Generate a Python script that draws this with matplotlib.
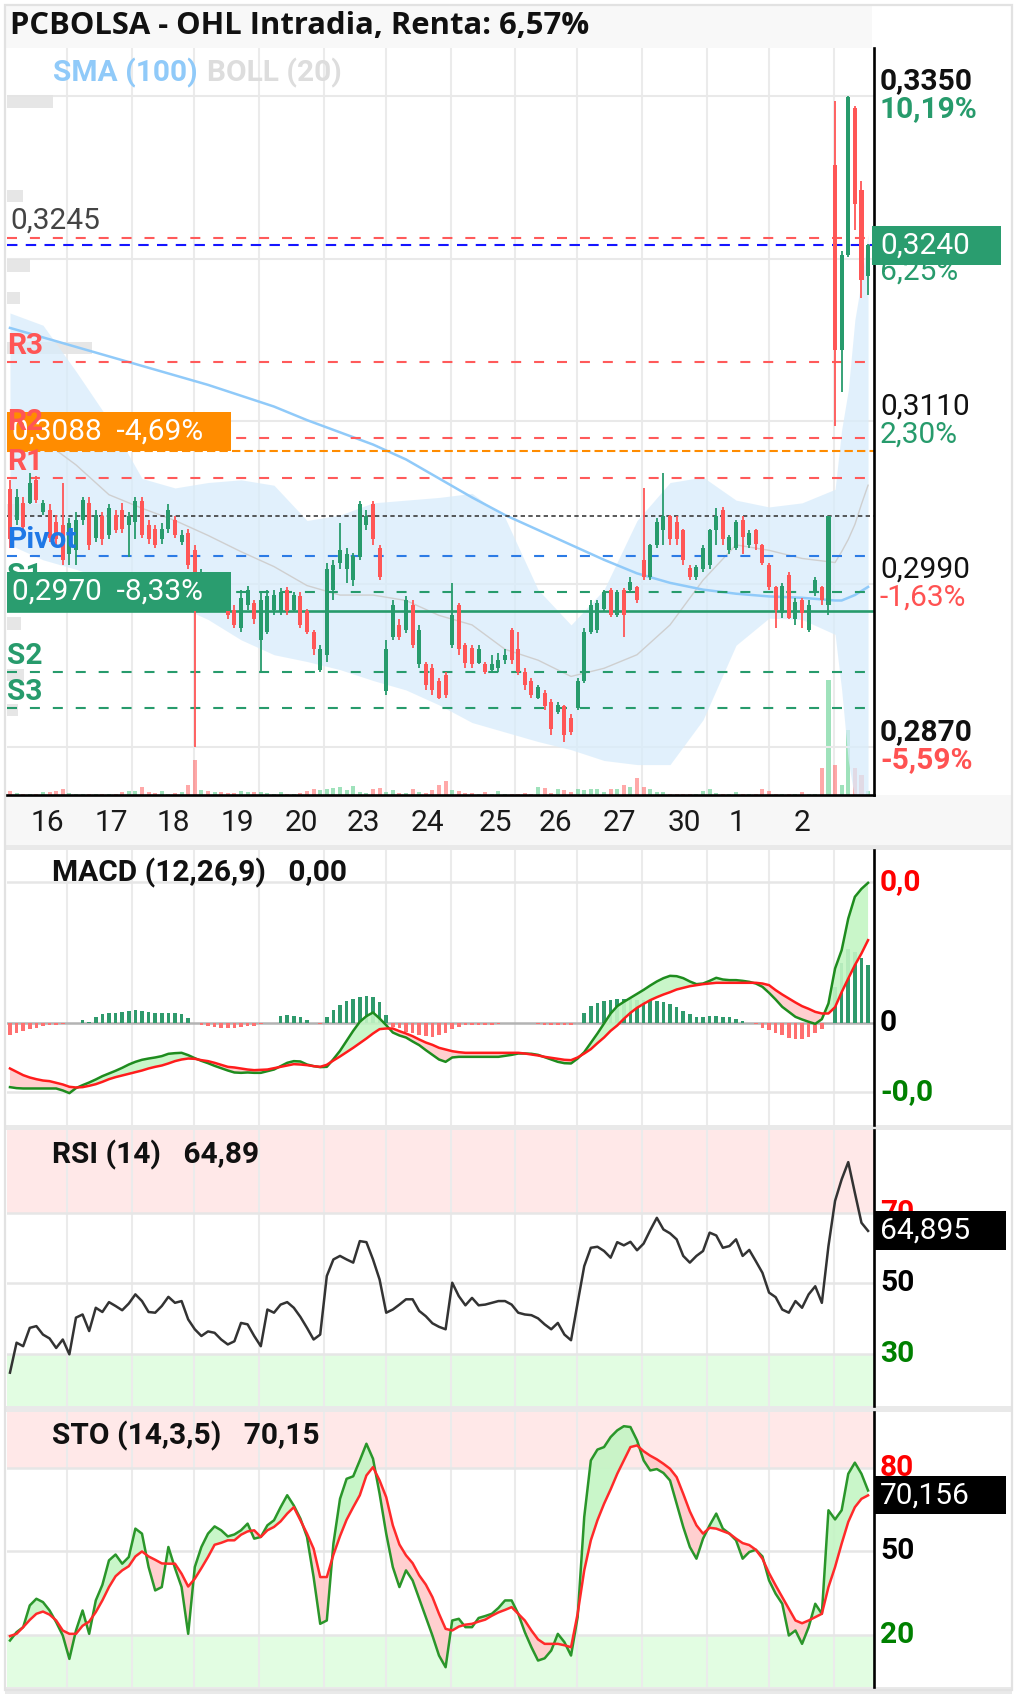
import numpy as np
import matplotlib
matplotlib.use('Agg')
import matplotlib.pyplot as plt
from matplotlib.patches import Rectangle

plt.rcParams['font.family'] = ['Roboto', 'DejaVu Sans']

# ---------------------------------------------------------------- data
title = 'PCBOLSA - OHL Intradia, Renta: 6,57%'
day_labels = ['16', '17', '18', '19', '20', '23', '24', '25', '26', '27', '30', '1', '2']

opens = [0.3060, 0.3037, 0.3050, 0.3050, 0.3067, 0.3043, 0.3045, 0.3036, 0.3034, 0.3012,
         0.3015, 0.3037, 0.3050, 0.3024, 0.3040, 0.3026, 0.3041, 0.3045, 0.3034, 0.3036,
         0.3051, 0.3034, 0.3031, 0.3023, 0.3031, 0.3037, 0.3021, 0.3028, 0.3015, 0.2993,
         0.2997, 0.2980, 0.2986, 0.2978, 0.2971, 0.2958, 0.2975, 0.2976, 0.2949, 0.2955,
         0.2971, 0.2970, 0.2986, 0.2971, 0.2981, 0.2970, 0.2955, 0.2927, 0.2938, 0.2986,
         0.3006, 0.3001, 0.2993, 0.3010, 0.3034, 0.3049, 0.3017, 0.2911, 0.2951, 0.2960,
         0.2956, 0.2975, 0.2931, 0.2931, 0.2928, 0.2919, 0.2923, 0.2945, 0.2975, 0.2945,
         0.2943, 0.2932, 0.2931, 0.2927, 0.2928, 0.2934, 0.2956, 0.2942, 0.2925, 0.2919,
         0.2906, 0.2910, 0.2903, 0.2896, 0.2900, 0.2891, 0.2899, 0.2919, 0.2955, 0.2956,
         0.2972, 0.2986, 0.2967, 0.2986, 0.2986, 0.2988, 0.3008, 0.2995, 0.3019, 0.3030,
         0.3040, 0.3036, 0.3030, 0.3002, 0.2995, 0.3001, 0.3004, 0.3030, 0.3045, 0.3015,
         0.3017, 0.3037, 0.3019, 0.3030, 0.3019, 0.3004, 0.2988, 0.2969, 0.2997, 0.2964,
         0.2978, 0.2956, 0.2984, 0.2988, 0.2975, 0.3299, 0.3163, 0.3233, 0.3341, 0.3281,
         0.3217]
closes = [0.3023, 0.3054, 0.3032, 0.3065, 0.3052, 0.3050, 0.3024, 0.3023, 0.3008, 0.3035,
          0.3037, 0.3052, 0.3019, 0.3041, 0.3023, 0.3046, 0.3030, 0.3031, 0.3040, 0.3051,
          0.3026, 0.3023, 0.3019, 0.3031, 0.3045, 0.3026, 0.3026, 0.3004, 0.2997, 0.2998,
          0.2986, 0.2987, 0.2975, 0.2967, 0.2960, 0.2980, 0.2986, 0.2964, 0.2978, 0.2981,
          0.2982, 0.2984, 0.2970, 0.2982, 0.2960, 0.2955, 0.2942, 0.2942, 0.3001, 0.3004,
          0.3015, 0.3012, 0.3011, 0.3049, 0.3040, 0.3023, 0.2995, 0.2942, 0.2975, 0.2951,
          0.2978, 0.2945, 0.2956, 0.2916, 0.2912, 0.2906, 0.2908, 0.2967, 0.2942, 0.2932,
          0.2931, 0.2942, 0.2925, 0.2931, 0.2934, 0.2938, 0.2934, 0.2925, 0.2916, 0.2908,
          0.2914, 0.2900, 0.2883, 0.2901, 0.2879, 0.2881, 0.2919, 0.2955, 0.2975, 0.2976,
          0.2984, 0.2967, 0.2984, 0.2967, 0.2992, 0.2978, 0.2995, 0.3019, 0.3036, 0.3040,
          0.3023, 0.3023, 0.3008, 0.2995, 0.3003, 0.3017, 0.3030, 0.3040, 0.3023, 0.3025,
          0.3036, 0.3025, 0.3028, 0.3020, 0.3006, 0.2988, 0.2971, 0.2989, 0.2965, 0.2977,
          0.2969, 0.2975, 0.2993, 0.2978, 0.3040, 0.3163, 0.3233, 0.3349, 0.3270, 0.3214,
          0.3240]
highs = [0.3067, 0.3060, 0.3054, 0.3072, 0.3070, 0.3052, 0.3049, 0.3041, 0.3065, 0.3039,
         0.3043, 0.3054, 0.3054, 0.3045, 0.3043, 0.3049, 0.3045, 0.3050, 0.3043, 0.3054,
         0.3054, 0.3037, 0.3034, 0.3035, 0.3049, 0.3040, 0.3030, 0.3031, 0.3019, 0.3001,
         0.2999, 0.2989, 0.2987, 0.2981, 0.2975, 0.2986, 0.2989, 0.2978, 0.2984, 0.2986,
         0.2986, 0.2987, 0.2988, 0.2984, 0.2984, 0.2972, 0.2956, 0.2945, 0.3006, 0.3008,
         0.3035, 0.3017, 0.3013, 0.3051, 0.3045, 0.3051, 0.3019, 0.2949, 0.2978, 0.2964,
         0.2981, 0.2978, 0.2960, 0.2933, 0.2931, 0.2921, 0.2925, 0.2991, 0.2976, 0.2947,
         0.2945, 0.2945, 0.2933, 0.2938, 0.2939, 0.2942, 0.2958, 0.2955, 0.2928, 0.2921,
         0.2916, 0.2912, 0.2905, 0.2903, 0.2901, 0.2894, 0.2921, 0.2958, 0.2978, 0.2978,
         0.2986, 0.2987, 0.2986, 0.2987, 0.2995, 0.2989, 0.3061, 0.3020, 0.3039, 0.3072,
         0.3041, 0.3040, 0.3031, 0.3004, 0.3004, 0.3019, 0.3031, 0.3046, 0.3047, 0.3026,
         0.3037, 0.3040, 0.3030, 0.3031, 0.3020, 0.3006, 0.2989, 0.2991, 0.2999, 0.2980,
         0.2980, 0.2978, 0.2995, 0.2989, 0.3040, 0.3346, 0.3236, 0.3350, 0.3343, 0.3287,
         0.3241]
lows = [0.3017, 0.3034, 0.3030, 0.3049, 0.3050, 0.3041, 0.3021, 0.3019, 0.3004, 0.3004,
        0.3004, 0.3034, 0.3015, 0.3021, 0.3019, 0.3023, 0.3028, 0.3028, 0.3010, 0.3023,
        0.3024, 0.3020, 0.3017, 0.3020, 0.3028, 0.3024, 0.3019, 0.3001, 0.2870, 0.2991,
        0.2982, 0.2977, 0.2971, 0.2964, 0.2958, 0.2955, 0.2971, 0.2961, 0.2925, 0.2953,
        0.2967, 0.2967, 0.2967, 0.2970, 0.2958, 0.2953, 0.2938, 0.2925, 0.2933, 0.2978,
        0.3001, 0.2991, 0.2989, 0.3008, 0.3030, 0.3019, 0.2993, 0.2908, 0.2949, 0.2949,
        0.2954, 0.2943, 0.2928, 0.2912, 0.2908, 0.2905, 0.2906, 0.2943, 0.2938, 0.2928,
        0.2928, 0.2931, 0.2924, 0.2925, 0.2925, 0.2931, 0.2931, 0.2923, 0.2912, 0.2906,
        0.2905, 0.2897, 0.2879, 0.2894, 0.2874, 0.2879, 0.2897, 0.2917, 0.2953, 0.2954,
        0.2970, 0.2966, 0.2966, 0.2951, 0.2984, 0.2976, 0.2993, 0.2993, 0.3017, 0.3019,
        0.3019, 0.3019, 0.3004, 0.2993, 0.2993, 0.2999, 0.3001, 0.3019, 0.3019, 0.3012,
        0.3015, 0.3012, 0.3017, 0.3015, 0.3004, 0.2986, 0.2958, 0.2965, 0.2964, 0.2960,
        0.2958, 0.2955, 0.2981, 0.2975, 0.2967, 0.3107, 0.3132, 0.3231, 0.3251, 0.3201,
        0.3203]
volume_k = [80, 40, 20, 20, 20, 60, 60, 80, 120, 40,
            20, 20, 20, 20, 20, 20, 20, 60, 80, 80,
            160, 60, 40, 80, 20, 40, 60, 200, 700, 100,
            80, 60, 60, 40, 40, 80, 60, 60, 60, 40,
            20, 60, 20, 20, 40, 80, 120, 100, 120, 140,
            160, 100, 180, 60, 40, 120, 140, 60, 100, 40,
            40, 120, 60, 40, 100, 200, 280, 100, 80, 40,
            40, 20, 60, 20, 80, 20, 20, 20, 40, 20,
            160, 140, 40, 120, 100, 60, 120, 100, 120, 120,
            60, 120, 120, 200, 160, 340, 160, 120, 60, 60,
            20, 20, 20, 20, 20, 80, 120, 40, 20, 20,
            60, 20, 20, 20, 120, 80, 20, 20, 20, 20,
            60, 20, 20, 540, 2300, 600, 200, 1300, 540, 400,
            80]

# Bollinger (20) and SMA (100), sampled along the session
band_idx = [0, 5, 10, 15, 20, 25, 30, 35, 40, 45, 50, 55, 60, 65, 70, 75, 80, 85, 90,
            95, 100, 105, 110, 115, 120, 125, 126, 127, 128, 129, 130]
boll_upper = [0.3190, 0.3181, 0.3147, 0.3111, 0.3068, 0.3061, 0.3065, 0.3067, 0.3063, 0.3037,
              0.3041, 0.3050, 0.3052, 0.3054, 0.3057, 0.3039, 0.2986, 0.2960, 0.2986, 0.3037,
              0.3065, 0.3069, 0.3052, 0.3047, 0.3050, 0.3060, 0.3104, 0.3133, 0.3185, 0.3214,
              0.3248]
boll_lower = [0.3019, 0.3008, 0.3001, 0.2993, 0.2986, 0.2975, 0.2964, 0.2949, 0.2938, 0.2933,
              0.2927, 0.2919, 0.2912, 0.2901, 0.2888, 0.2881, 0.2874, 0.2868, 0.2860, 0.2857,
              0.2857, 0.2890, 0.2945, 0.2965, 0.2964, 0.2953, 0.2912, 0.2860, 0.2831, 0.2809,
              0.2787]
boll_mid = [0.3104, 0.3096, 0.3078, 0.3056, 0.3046, 0.3037, 0.3026, 0.3014, 0.3003, 0.2989,
            0.2982, 0.2982, 0.2978, 0.2967, 0.2960, 0.2942, 0.2934, 0.2922, 0.2928, 0.2938,
            0.2960, 0.2993, 0.3019, 0.3015, 0.3009, 0.3006, 0.3014, 0.3023, 0.3034, 0.3049,
            0.3063]
sma100 = [0.3179, 0.3172, 0.3165, 0.3158, 0.3151, 0.3144, 0.3137, 0.3129, 0.3121, 0.3111,
          0.3102, 0.3093, 0.3082, 0.3068, 0.3054, 0.3041, 0.3030, 0.3019, 0.3008, 0.2998,
          0.2991, 0.2986, 0.2983, 0.2981, 0.2980, 0.2978, 0.2978, 0.2980, 0.2982, 0.2985,
          0.2988]

# volume at price (left edge)
vp_price = [0.3346, 0.3276, 0.3225, 0.3201, 0.3164, 0.3045, 0.2961, 0.2923, 0.2897]
vp_volume_k = [460, 160, 230, 130, 850, 380, 140, 170, 110]

# price levels
last_price = 0.3240
prev_high = 0.3245
base_price = 0.3040
orange_level = 0.3088
green_level = 0.2970
level_names = ['R3', 'R2', 'R1', 'Pivot', 'S1', 'S2', 'S3']
level_values = [0.3154, 0.3098, 0.3068, 0.3011, 0.2984, 0.2925, 0.2899]
price_ticks = [0.3350, 0.3230, 0.3110, 0.2990, 0.2870]
price_pcts = ['10,19%', '6,25%', '2,30%', '-1,63%', '-5,59%']

# MACD (12,26,9), in 1e-4
macd = [-9.10, -9.24, -9.29, -9.29, -9.29, -9.29, -9.29, -9.29, -9.57, -9.95,
        -9.24, -8.82, -8.44, -8.01, -7.54, -7.16, -6.78, -6.36, -5.89, -5.51,
        -5.22, -5.04, -4.89, -4.70, -4.37, -4.28, -4.23, -4.56, -4.99, -5.37,
        -5.70, -6.08, -6.41, -6.74, -7.02, -7.07, -7.02, -7.07, -7.07, -6.83,
        -6.60, -6.12, -5.65, -5.41, -5.46, -5.89, -6.12, -6.26, -6.22, -5.13,
        -3.95, -2.53, -1.11, 0.17, 0.97, 1.49, 0.64, -0.31, -1.35, -1.77,
        -2.06, -2.62, -3.14, -3.85, -4.52, -5.18, -5.51, -4.89, -4.80, -4.80,
        -4.80, -4.80, -4.80, -4.80, -4.80, -4.66, -4.52, -4.33, -4.33, -4.37,
        -4.52, -4.85, -5.18, -5.51, -5.70, -5.74, -5.04, -4.14, -2.81, -1.49,
        -0.07, 1.35, 2.39, 3.00, 3.57, 4.14, 4.70, 5.32, 5.89, 6.36,
        6.69, 6.64, 6.36, 5.89, 5.51, 5.60, 5.98, 6.41, 6.17, 6.08,
        6.08, 5.98, 5.84, 5.60, 5.13, 4.28, 3.33, 2.29, 1.58, 0.87,
        0.50, 0.17, -0.12, 0.54, 2.77, 7.73, 10.33, 14.82, 17.90, 19.03,
        19.88]
signal = [-6.45, -6.93, -7.40, -7.73, -7.97, -8.16, -8.25, -8.49, -8.72, -9.05,
          -9.15, -9.10, -8.91, -8.68, -8.35, -7.97, -7.68, -7.45, -7.21, -6.97,
          -6.74, -6.45, -6.22, -6.03, -5.74, -5.41, -5.18, -5.04, -5.08, -5.27,
          -5.41, -5.65, -5.93, -6.22, -6.31, -6.45, -6.60, -6.69, -6.64, -6.60,
          -6.41, -6.22, -6.03, -5.84, -5.89, -5.98, -6.12, -6.22, -5.93, -5.32,
          -4.75, -4.14, -3.52, -2.86, -2.20, -1.49, -0.87, -0.78, -0.78, -1.16,
          -1.49, -1.87, -2.34, -2.77, -3.10, -3.52, -3.76, -4.00, -4.14, -4.23,
          -4.23, -4.23, -4.23, -4.23, -4.23, -4.23, -4.23, -4.23, -4.33, -4.47,
          -4.61, -4.80, -4.94, -5.08, -5.22, -5.27, -4.89, -4.33, -3.71, -2.86,
          -2.06, -1.11, -0.35, 0.59, 1.44, 2.15, 2.72, 3.24, 3.66, 4.04,
          4.37, 4.75, 4.99, 5.22, 5.37, 5.51, 5.60, 5.70, 5.70, 5.70,
          5.70, 5.70, 5.70, 5.70, 5.60, 5.37, 4.66, 4.04, 3.48, 2.91,
          2.39, 2.01, 1.58, 1.35, 1.35, 2.25, 4.37, 6.31, 8.20, 9.86,
          11.75]
macd_hist = [-1.73, -1.39, -1.11, -0.83, -0.64, -0.45, -0.35, -0.26, -0.17, -0.07,
             -0.02, 0.40, 0.17, 0.87, 1.25, 1.35, 1.44, 1.58, 1.73, 1.82,
             1.68, 1.49, 1.35, 1.35, 1.39, 1.35, 1.25, 0.64, 0.02, -0.31,
             -0.45, -0.54, -0.64, -0.78, -0.64, -0.54, -0.45, -0.40, -0.21, -0.02,
             -0.02, 0.97, 1.11, 1.02, 0.78, 0.40, -0.07, -0.17, 0.87, 1.91,
             2.53, 3.05, 3.38, 3.71, 3.85, 3.71, 3.00, 1.11, -0.54, -0.78,
             -1.25, -1.49, -1.73, -1.87, -1.96, -1.73, -1.39, -0.92, -0.54, -0.35,
             -0.31, -0.31, -0.31, -0.31, -0.21, -0.02, -0.02, -0.02, -0.02, -0.02,
             -0.21, -0.31, -0.35, -0.35, -0.35, -0.31, -0.02, 1.35, 2.39, 2.86,
             3.14, 3.33, 3.38, 3.38, 3.38, 3.33, 3.33, 3.24, 3.14, 2.96,
             2.67, 2.29, 1.73, 1.25, 0.87, 0.87, 0.97, 0.97, 0.87, 0.78,
             0.54, 0.31, -0.02, -0.21, -0.64, -1.02, -1.39, -1.73, -2.06, -2.29,
             -2.20, -1.96, -1.49, -0.92, -0.02, 5.13, 8.44, 10.43, 10.09, 9.15,
             8.20]

rsi = [24.7, 33.2, 32.2, 37.4, 37.9, 35.5, 34.4, 31.7, 34.1, 29.9,
       40.3, 41.2, 36.5, 43.1, 41.9, 44.7, 43.6, 42.4, 44.3, 46.9,
       45.0, 41.9, 41.7, 43.6, 46.2, 44.5, 45.0, 39.8, 37.0, 35.1,
       36.4, 36.0, 34.1, 32.7, 33.6, 38.8, 38.4, 35.1, 32.2, 42.6,
       41.7, 44.0, 44.7, 43.1, 40.5, 37.4, 34.1, 35.5, 52.1, 56.8,
       57.8, 56.8, 55.9, 62.0, 61.7, 56.8, 51.1, 41.7, 42.6, 44.0,
       45.5, 45.5, 42.2, 40.7, 38.7, 37.7, 37.0, 50.2, 46.4, 43.8,
       45.9, 43.8, 44.0, 44.5, 45.0, 45.0, 44.0, 41.7, 41.2, 41.0,
       40.1, 38.4, 37.0, 38.8, 35.5, 33.9, 44.5, 54.9, 60.1, 60.4,
       59.2, 57.3, 61.7, 60.8, 61.8, 59.4, 61.3, 65.1, 68.6, 65.3,
       64.2, 62.5, 57.8, 55.9, 57.8, 59.2, 64.4, 63.6, 60.1, 60.6,
       62.5, 57.8, 59.5, 56.3, 53.0, 47.4, 46.1, 42.6, 41.7, 45.0,
       43.1, 46.9, 49.2, 44.5, 60.6, 73.4, 79.5, 84.4, 75.7, 67.2,
       64.895]

sto_k = [18.0, 21.0, 22.8, 30.6, 33.0, 31.8, 28.8, 24.6, 19.8, 11.4,
         21.6, 28.8, 20.4, 32.4, 38.0, 46.8, 48.9, 45.6, 48.0, 58.2,
         56.4, 44.4, 36.0, 37.2, 51.6, 44.0, 37.2, 20.4, 44.4, 51.6,
         56.4, 59.0, 57.6, 55.4, 56.1, 57.6, 60.0, 54.6, 55.2, 59.4,
         61.2, 65.9, 70.2, 66.5, 61.8, 55.2, 40.8, 24.0, 25.2, 52.8,
         68.9, 76.1, 77.0, 82.7, 88.7, 83.3, 70.7, 56.4, 44.4, 37.2,
         43.2, 39.6, 33.0, 26.4, 19.8, 12.6, 8.4, 25.2, 25.8, 22.8,
         22.8, 26.1, 26.8, 27.6, 29.7, 32.4, 32.4, 27.6, 21.0, 15.6,
         10.8, 11.6, 14.4, 20.4, 17.4, 12.6, 26.4, 62.4, 82.7, 86.6,
         87.5, 91.1, 93.5, 95.0, 94.7, 89.9, 82.7, 79.1, 79.6, 78.2,
         75.5, 67.1, 58.8, 51.6, 47.4, 54.6, 59.4, 63.6, 58.2, 56.4,
         54.0, 47.4, 49.8, 50.6, 48.2, 39.6, 34.8, 31.2, 19.8, 21.6,
         16.8, 22.8, 31.2, 27.6, 64.8, 61.5, 64.8, 77.9, 81.9, 77.9,
         71.9]
sto_d = [19.6, 20.4, 22.8, 25.4, 27.6, 28.4, 27.3, 25.2, 21.6, 20.4,
         20.4, 23.3, 24.8, 28.2, 32.4, 37.2, 41.1, 43.2, 44.7, 48.2,
         50.0, 48.2, 47.0, 45.7, 45.6, 45.6, 42.0, 37.4, 40.2, 44.0,
         48.0, 52.4, 53.1, 54.0, 54.0, 56.0, 57.2, 57.6, 55.2, 57.6,
         58.8, 60.8, 63.6, 65.9, 61.2, 56.4, 51.0, 40.8, 40.8, 48.8,
         55.5, 61.4, 65.9, 70.2, 77.3, 80.3, 75.5, 69.5, 59.4, 52.5,
         48.6, 45.8, 41.4, 38.1, 33.6, 27.6, 22.2, 21.6, 23.0, 23.7,
         24.0, 24.8, 25.5, 26.9, 28.1, 29.0, 30.0, 27.6, 25.2, 21.6,
         18.4, 16.8, 16.8, 16.8, 16.3, 15.6, 27.6, 43.2, 54.0, 61.2,
         67.1, 72.3, 77.9, 82.7, 87.5, 88.1, 86.0, 84.4, 83.1, 81.5,
         79.7, 76.7, 70.7, 64.4, 59.4, 56.4, 58.5, 58.2, 57.3, 56.4,
         54.6, 53.0, 52.3, 50.6, 47.4, 42.2, 37.8, 33.6, 29.4, 25.2,
         24.2, 25.2, 26.4, 27.6, 37.2, 44.4, 52.8, 60.6, 65.9, 68.9,
         70.156]

# ---------------------------------------------------------------- style
GREEN = '#279b6c'
RED = '#ff5656'
GRID = '#ebebeb'
FS = 21.5                 # label size used throughout the scales
W, H = 1017, 1694
PX = 0.00007374          # price per pixel on the main panel
XL = (-0.45, 130.9)
grid_x = [8.6, 18.5, 27.9, 37.7, 47.6, 57.0, 66.8, 76.5, 85.9, 95.8, 105.6, 115.0, 124.8]
label_x = [5.6, 15.3, 24.7, 34.5, 44.2, 53.5, 63.3, 73.5, 82.6, 92.3, 102.1, 110.2, 120.0]

fig = plt.figure(figsize=(W / 100, H / 100), dpi=100)


def px_rect(x0, y0, x1, y1):
    return [x0 / W, 1 - y1 / H, (x1 - x0) / W, (y1 - y0) / H]


def fig_box(x0, y0, x1, y1, color, z=-1):
    fig.add_artist(Rectangle((x0 / W, 1 - y1 / H), (x1 - x0) / W, (y1 - y0) / H,
                             transform=fig.transFigure, facecolor=color, lw=0, zorder=z))


fig_box(5, 5, 872, 48, '#f8f8f8')          # title strip
fig_box(5, 795, 1012, 845, '#f7f7f7')      # date strip
fig_box(5, 845, 1012, 850, '#e9e9e9')
fig_box(5, 1125, 1012, 1130, '#e9e9e9')
fig_box(5, 1406, 1012, 1412, '#e9e9e9')
fig_box(5, 1687, 1012, 1694, '#e9e9e9')
fig.add_artist(Rectangle((5 / W, 1 - 1690 / H), 1007 / W, 1685 / H, transform=fig.transFigure,
                         fill=False, edgecolor='#e2e2e2', lw=1.6, zorder=-1))
fig.text(10 / W, 1 - 26 / H, title, fontfamily=['Open Sans', 'DejaVu Sans'], fontweight='bold',
         fontsize=22.3, va='center', ha='left', color='#111111')


def clean(a, bottom=False):
    a.set_xlim(*XL)
    a.set_xticks([])
    a.set_yticks([])
    for side in ('top', 'left', 'bottom'):
        a.spines[side].set_visible(False)
    a.spines['right'].set_color('black')
    a.spines['right'].set_linewidth(1.9)
    if bottom:
        a.spines['bottom'].set_visible(True)
        a.spines['bottom'].set_color('black')
        a.spines['bottom'].set_linewidth(1.9)


idx = np.arange(len(closes))
o, c, hi, lo = map(np.array, (opens, closes, highs, lows))
up = c >= o
cols = np.where(up, GREEN, RED)

# ---------------------------------------------------------------- price panel
ax_vol = fig.add_axes(px_rect(7, 48, 874, 795), zorder=0)
ax_vol.set_xlim(*XL)
ax_vol.set_ylim(0, max(volume_k) * 747 / 115)
ax_vol.axis('off')
for g in grid_x:
    ax_vol.axvline(g, color=GRID, lw=1.5, zorder=0)
ax_vol.bar(idx, volume_k, width=0.62, color=np.where(up, '#5fd08f', '#ff6f6f'), alpha=0.6, lw=0)

ax = fig.add_axes(px_rect(7, 48, 874, 795), zorder=1)
ax.patch.set_alpha(0)
clean(ax, bottom=True)
ax.set_ylim(0.283457, 0.33854)

for p in price_ticks:
    ax.axhline(p, color='#e9e9e9', lw=1.5, zorder=0.5)

ax.barh(vp_price, np.array(vp_volume_k) / 66.0, left=XL[0], height=0.0009,
        color='#e4e4e4', alpha=0.9, lw=0, zorder=0.8)

ax.fill_between(band_idx, boll_lower, boll_upper, color='#d8ecfb', alpha=0.75, lw=0, zorder=1)
ax.plot(band_idx, boll_mid, color='#cfcfcf', lw=1.0, zorder=1.5)
ax.plot(band_idx, sma100, color='#90caf9', lw=1.8, zorder=2)

red_dash = (0, (4.8, 6.2))
for lv in [prev_high] + level_values[:3]:
    ax.axhline(lv, color='#ff5a5a', lw=1.5, ls=red_dash, zorder=2.5)
ax.axhline(orange_level, color='#ff8c00', lw=1.5, ls=(0, (4, 2)), zorder=2.5)
ax.axhline(base_price, color='#3c3c3c', lw=1.2, ls=(0, (2.6, 2.0)), zorder=2.5)
ax.axhline(level_values[3], color='#2c7be5', lw=1.5, ls=red_dash, zorder=2.5)
for lv in level_values[4:]:
    ax.axhline(lv, color=GREEN, lw=1.5, ls=red_dash, zorder=2.5)
ax.axhline(green_level, color=GREEN, lw=1.9, zorder=2.5)
ax.axhline(last_price, color='#1515ff', lw=1.5, ls=(0, (5, 4)), zorder=2.6)

# candles
body_lo = np.minimum(o, c)
body_h = np.maximum(np.abs(c - o), PX * 1.5)
ax.vlines(idx, lo, hi, colors=cols, lw=1.3, zorder=4)
ax.bar(idx, body_h, bottom=body_lo, width=0.62, color=cols, lw=0, zorder=4)

yt = ax.get_yaxis_transform()

# value boxes on the left
for lv, pct, col in [(orange_level, '-4,69%', '#ff8c00'), (green_level, '-8,33%', '#2a9d6f')]:
    ax.add_patch(Rectangle((0, lv), 0.2584, 39 * PX, transform=yt, facecolor=col,
                           lw=0, zorder=7, clip_on=False))
    ax.annotate(f'{lv:.4f}'.replace('.', ',') + '  ' + pct, xy=(0, lv + 19.5 * PX), xycoords=yt,
                xytext=(3.5, 0), textcoords='offset points', fontsize=FS, color='white',
                va='center', ha='left', zorder=8)

# pivot labels: R2 sits over the orange box, S1 under the green one
level_colors = [RED, RED, RED, '#1e78e6', GREEN, GREEN, GREEN]
for name, lv, col in zip(level_names, level_values, level_colors):
    ax.annotate(name, xy=(0, lv), xycoords=yt, xytext=(0, 11.5), textcoords='offset points',
                fontsize=FS, fontweight='bold', color=col, va='center', ha='left',
                annotation_clip=False, zorder=6 if name == 'S1' else 9)
ax.annotate(f'{prev_high:.4f}'.replace('.', ','), xy=(0, prev_high), xycoords=yt,
            xytext=(2.5, 13), textcoords='offset points', fontsize=FS, color='#444444',
            va='center', ha='left', zorder=6)

# right-hand price scale
for k, (p, pct) in enumerate(zip(price_ticks, price_pcts)):
    strong = k in (0, len(price_ticks) - 1)
    pcol = GREEN if not pct.startswith('-') else '#ff5252'
    ax.annotate(f'{p:.4f}'.replace('.', ','), xy=(1, p), xycoords=yt, xytext=(4.3, 10.8),
                textcoords='offset points', fontsize=FS, color='#111111', va='center',
                fontweight='bold' if strong else 'normal', annotation_clip=False)
    ax.annotate(pct, xy=(1, p), xycoords=yt, xytext=(4.3, -9.5), textcoords='offset points',
                fontsize=FS, color=pcol, va='center',
                fontweight='bold' if strong else 'normal', annotation_clip=False)

ax.add_patch(Rectangle((0.9977, last_price - 19.5 * PX), 0.1488, 39 * PX, transform=yt,
                       facecolor='#2a9d6f', lw=0, zorder=9, clip_on=False))
ax.annotate(f'{last_price:.4f}'.replace('.', ','), xy=(1, last_price), xycoords=yt,
            xytext=(4.3, 0), textcoords='offset points', fontsize=FS, color='white',
            va='center', zorder=10, annotation_clip=False)

ax.text(0.053, 0.9665, 'SMA (100)', transform=ax.transAxes, fontsize=FS, fontweight='bold',
        color='#90caf9', va='center', ha='left')
ax.text(0.2307, 0.9665, 'BOLL (20)', transform=ax.transAxes, fontsize=FS, fontweight='bold',
        color='#dddddd', va='center', ha='left')

xt = ax.get_xaxis_transform()
for lx, lab in zip(label_x, day_labels):
    ax.text(lx, -0.0375, lab, transform=xt, fontsize=FS, color='#1a1a1a',
            ha='center', va='center', clip_on=False)


# ---------------------------------------------------------------- lower panels
def side_labels(a, vals, texts, colors):
    t = a.get_yaxis_transform()
    for v, s, col in zip(vals, texts, colors):
        a.annotate(s, xy=(1, v), xycoords=t, xytext=(4.3, 0), textcoords='offset points',
                   fontsize=FS, fontweight='bold', color=col, va='center',
                   annotation_clip=False)


def value_box(a, v, half, text):
    t = a.get_yaxis_transform()
    a.add_patch(Rectangle((1.0012, v - half), 0.151, 2 * half, transform=t, facecolor='black',
                          lw=0, zorder=9, clip_on=False))
    a.annotate(text, xy=(1, v), xycoords=t, xytext=(4.3, 0), textcoords='offset points',
               fontsize=FS, color='white', va='center', zorder=10, annotation_clip=False)


def panel_title(a, y, text):
    a.text(0.052, y, text, transform=a.transAxes, fontsize=FS, fontweight='bold',
           color='#111111', va='center', ha='left', zorder=10)


def cross_fill(a, x, fast, slow, zf=3):
    fast, slow = np.array(fast), np.array(slow)
    a.fill_between(x, fast, slow, where=fast >= slow, interpolate=True,
                   color='#c4f5c4', alpha=0.9, lw=0, zorder=zf)
    a.fill_between(x, fast, slow, where=fast < slow, interpolate=True,
                   color='#ffcaca', alpha=0.9, lw=0, zorder=zf)


# MACD
ax_m = fig.add_axes(px_rect(7, 850, 874, 1125))
clean(ax_m)
ax_m.set_ylim(-14.47, 24.54)
for g in grid_x:
    ax_m.axvline(g, color=GRID, lw=1.5, zorder=0)
for gy in (20, -9.8):
    ax_m.axhline(gy, color='#e6e6e6', lw=1.8, zorder=0.5)
ax_m.axhline(0, color='#b3b3b3', lw=1.8, zorder=1)
hist = np.array(macd_hist)
ax_m.bar(idx, hist, width=0.55, color=np.where(hist >= 0, '#2f9a6c', '#ff7070'), lw=0, zorder=2)
cross_fill(ax_m, idx, macd, signal)
ax_m.plot(idx, macd, color='#1e8c1e', lw=1.8, zorder=4)
ax_m.plot(idx, signal, color='#ff1c1c', lw=1.8, zorder=4)
panel_title(ax_m, 0.916, 'MACD (12,26,9)   0,00')
side_labels(ax_m, [20, 0, -9.8], ['0,0', '0', '-0,0'], ['#ff0000', '#000000', '#008000'])

# RSI
ax_r = fig.add_axes(px_rect(7, 1130, 874, 1406))
clean(ax_r)
ax_r.set_ylim(15.25, 93.5)
ax_r.axhspan(70, 93.5, color='#ffe8e8', lw=0, zorder=0)
ax_r.axhspan(15.25, 30, color='#e2fde2', lw=0, zorder=0)
for g in grid_x:
    ax_r.axvline(g, color=GRID, lw=1.5, zorder=0.3)
for gy in (70, 50, 30):
    ax_r.axhline(gy, color='#e6e6e6', lw=1.8, zorder=0.5)
ax_r.plot(idx, rsi, color='#333333', lw=1.8, zorder=4)
panel_title(ax_r, 0.909, 'RSI (14)   64,89')
side_labels(ax_r, [70, 50, 30], ['70', '50', '30'], ['#ff0000', '#000000', '#008000'])
value_box(ax_r, rsi[-1], 5.53, '64,895')

# Stochastic
ax_s = fig.add_axes(px_rect(7, 1412, 874, 1687))
clean(ax_s)
ax_s.set_ylim(1.3, 100.1)
ax_s.axhspan(80, 100.1, color='#ffe8e8', lw=0, zorder=0)
ax_s.axhspan(1.3, 20, color='#e2fde2', lw=0, zorder=0)
for g in grid_x:
    ax_s.axvline(g, color=GRID, lw=1.5, zorder=0.3)
for gy in (80, 50, 20):
    ax_s.axhline(gy, color='#e6e6e6', lw=1.8, zorder=0.5)
cross_fill(ax_s, idx, sto_k, sto_d)
ax_s.plot(idx, sto_k, color='#2a962a', lw=1.8, zorder=4)
ax_s.plot(idx, sto_d, color='#ff2a2a', lw=1.8, zorder=4)
panel_title(ax_s, 0.913, 'STO (14,3,5)   70,15')
side_labels(ax_s, [80, 50, 20], ['80', '50', '20'], ['#ff0000', '#000000', '#008000'])
value_box(ax_s, sto_d[-1], 6.85, '70,156')

fig.savefig('out.png', dpi=100)
